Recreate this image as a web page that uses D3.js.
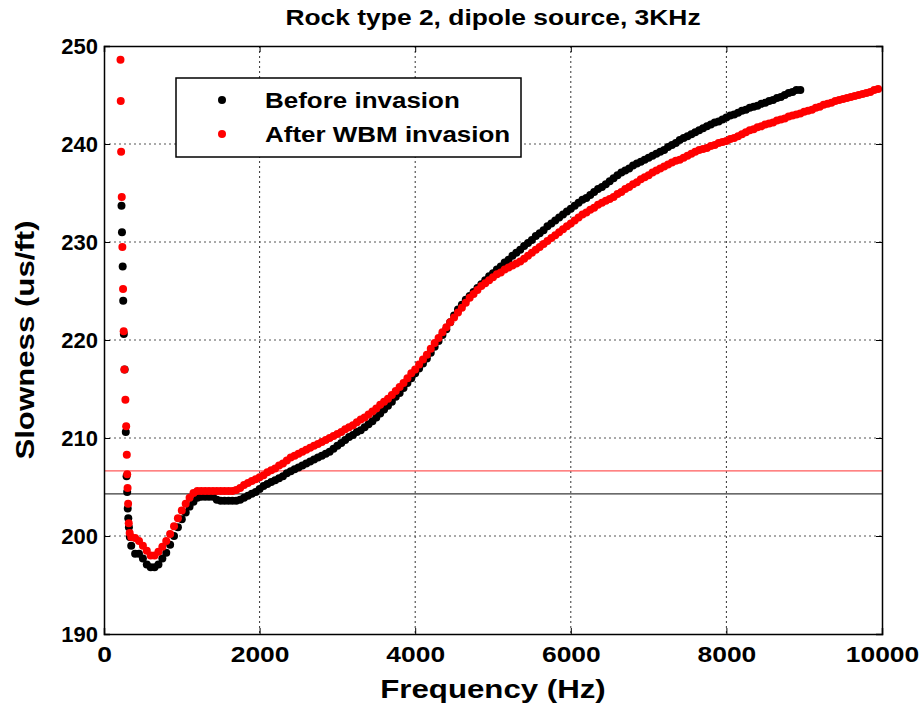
<!DOCTYPE html>
<html><head><meta charset="utf-8">
<script src="https://cdn.jsdelivr.net/npm/d3@7"></script>
<style>
html,body{margin:0;padding:0;background:#fff;}
svg{display:block;font-family:"Liberation Sans",Arial,Helvetica,sans-serif;}
</style></head>
<body><svg id="chart" width="922" height="706"></svg>
<script>
// ---------------- DATA ----------------
const chartTitle = "Rock type 2, dipole source, 3KHz";
const xLabel = "Frequency (Hz)";
const yLabel = "Slowness (us/ft)";
const seriesNames = ["Before invasion", "After WBM invasion"];
const xTicks = [0, 2000, 4000, 6000, 8000, 10000];
const yTicks = [190, 200, 210, 220, 230, 240, 250];

// low-frequency steep branch (Hz, us/ft)
const beforeLowFreq = [225, 231, 240, 247, 255, 265, 280, 290, 298, 305, 312, 320, 332];
const beforeLowSlow = [233.7, 231.0, 227.5, 224.0, 220.6, 217.0, 210.6, 206.1, 204.5, 202.8, 201.8, 200.9, 199.9];
const afterLowFreq = [212, 215, 220, 228, 236, 245, 253, 262, 275, 285, 293, 298, 303, 310, 318, 330];
const afterLowSlow = [248.6, 244.4, 239.2, 234.6, 229.5, 225.2, 220.9, 217.0, 213.9, 211.2, 208.3, 206.3, 204.9, 203.3, 201.3, 200.3];

// main branch frequencies (Hz)
const freqHz = [
  350,400,450,500,550,600,650,700,750,800,850,900,950,
  1000,1050,1100,1150,1200,1250,1300,1350,1400,1450,1500,1550,1600,1650,1700,1750,1800,1850,1900,1950,
  2000,2050,2100,2150,2200,2250,2300,2350,2400,2450,2500,2550,2600,2650,2700,2750,2800,2850,2900,2950,
  3000,3050,3100,3150,3200,3250,3300,3350,3400,3450,3500,3550,3600,3650,3700,3750,3800,3850,3900,3950,
  4000,4050,4100,4150,4200,4250,4300,4350,4400,4450,4500,4550,4600,4650,4700,4750,4800,4850,4900,4950,
  5000,5050,5100,5150,5200,5250,5300,5350,5400,5450,5500,5550,5600,5650,5700,5750,5800,5850,5900,5950,
  6000,6050,6100,6150,6200,6250,6300,6350,6400,6450,6500,6550,6600,6650,6700,6750,6800,6850,6900,6950,
  7000,7050,7100,7150,7200,7250,7300,7350,7400,7450,7500,7550,7600,7650,7700,7750,7800,7850,7900,7950,
  8000,8050,8100,8150,8200,8250,8300,8350,8400,8450,8500,8550,8600,8650,8700,8750,8800,8850,8900,8950,
  9000,9050,9100,9150,9200,9250,9300,9350,9400,9450,9500,9550,9600,9650,9700,9750,9800,9850,9900,9950
];
// Before invasion slowness (us/ft), 350 .. 8950 Hz
const beforeSlow = [
  199.0,198.2,198.2,197.7,197.1,196.8,196.8,197.1,197.7,198.3,199.1,200.0,200.9,
  201.7,202.4,203.0,203.5,203.9,204.0,204.0,204.0,204.0,203.7,203.6,203.6,203.6,203.6,203.6,203.7,203.9,204.1,204.3,204.5,
  204.8,205.1,205.3,205.5,205.7,205.9,206.1,206.4,206.6,206.8,207.0,207.2,207.4,207.6,207.8,208.0,208.2,208.4,208.6,208.9,
  209.2,209.5,209.8,210.1,210.3,210.6,210.8,211.1,211.4,211.7,212.1,212.5,212.9,213.3,213.7,214.2,214.6,215.1,215.6,216.1,
  216.6,217.1,217.6,218.1,218.7,219.3,219.9,220.5,221.1,221.8,222.5,223.1,223.6,224.1,224.5,224.9,225.3,225.7,226.1,226.5,
  226.8,227.2,227.5,227.9,228.2,228.6,228.9,229.2,229.6,229.9,230.2,230.6,230.9,231.2,231.6,231.9,232.2,232.5,232.8,233.1,
  233.4,233.7,234.0,234.3,234.5,234.8,235.1,235.4,235.6,235.9,236.2,236.5,236.8,237.1,237.3,237.5,237.8,238.0,238.2,238.4,
  238.6,238.8,239.0,239.2,239.4,239.7,239.9,240.1,240.4,240.6,240.8,241.0,241.2,241.4,241.6,241.8,242.0,242.2,242.3,242.5,
  242.7,242.9,243.0,243.2,243.4,243.5,243.7,243.8,243.9,244.1,244.2,244.4,244.5,244.7,244.8,245.0,245.2,245.3,245.5,245.5
];
// After WBM invasion slowness (us/ft), 350 .. 9950 Hz
const afterSlow = [
  199.9,199.8,199.5,199.0,198.5,198.0,198.0,198.4,198.9,199.5,200.2,201.0,201.8,
  202.6,203.3,203.9,204.4,204.6,204.6,204.6,204.6,204.6,204.6,204.6,204.6,204.6,204.6,204.7,204.9,205.2,205.4,205.6,205.8,
  206.0,206.2,206.5,206.7,206.9,207.2,207.4,207.7,208.0,208.2,208.4,208.6,208.8,209.0,209.2,209.4,209.6,209.8,210.0,210.2,
  210.4,210.6,210.9,211.1,211.3,211.6,211.9,212.1,212.4,212.7,213.0,213.4,213.7,214.0,214.4,214.8,215.2,215.6,216.1,216.6,
  217.0,217.5,218.0,218.5,219.1,219.7,220.2,220.8,221.3,221.8,222.3,222.8,223.3,223.8,224.3,224.7,225.1,225.5,225.8,226.1,
  226.4,226.7,226.9,227.2,227.4,227.6,227.8,228.0,228.3,228.6,228.9,229.2,229.5,229.8,230.1,230.4,230.7,231.0,231.3,231.6,
  231.9,232.2,232.5,232.8,233.0,233.3,233.5,233.8,234.0,234.2,234.4,234.6,234.9,235.1,235.4,235.6,235.9,236.1,236.4,236.6,
  236.8,237.1,237.3,237.5,237.7,237.9,238.1,238.3,238.4,238.6,238.8,239.0,239.2,239.4,239.5,239.6,239.8,239.9,240.1,240.2,
  240.3,240.5,240.6,240.8,241.0,241.2,241.4,241.5,241.7,241.8,242.0,242.1,242.2,242.4,242.5,242.6,242.8,242.9,243.0,243.1,
  243.3,243.4,243.5,243.7,243.8,244.0,244.1,244.2,244.4,244.5,244.6,244.7,244.8,244.9,245.0,245.1,245.2,245.3,245.5,245.6
];
// horizontal reference levels (us/ft)
const refLevels = [204.3, 206.65];
const seriesColors = ["#000000", "#ff0000"];
const refColors = ["#3a3a3a", "#ff5a5a"];

// ---------------- CHART ----------------
const svg = d3.select("#chart");
const L = 104, R = 882, T = 46, B = 634;
const x = d3.scaleLinear().domain([0, 10000]).range([L, R]);
const y = d3.scaleLinear().domain([190, 250]).range([B, T]);
const STR = 1.2;
const MR = 4;

function stretch(sel, k) {
  sel.each(function () {
    const w = this.getComputedTextLength();
    d3.select(this).attr("textLength", w * k).attr("lengthAdjust", "spacingAndGlyphs");
  });
}

// grid
const grid = svg.append("g");
grid.selectAll("line.vg").data(xTicks.slice(1, -1)).join("line")
  .attr("x1", d => x(d)).attr("x2", d => x(d)).attr("y1", T).attr("y2", B)
  .attr("stroke", "#333").attr("stroke-width", 1).attr("stroke-dasharray", "2,3");
grid.selectAll("line.hg").data(yTicks.slice(1, -1)).join("line")
  .attr("x1", L).attr("x2", R).attr("y1", d => y(d)).attr("y2", d => y(d))
  .attr("stroke", "#555").attr("stroke-width", 1).attr("stroke-dasharray", "2,3");

// reference lines
svg.selectAll("line.ref").data(refLevels).join("line")
  .attr("x1", L).attr("x2", R).attr("y1", d => y(d)).attr("y2", d => y(d))
  .attr("stroke", (d, i) => refColors[i]).attr("stroke-width", 1.3);

// series
function pts(fl, sl, fm, sm) {
  const a = fl.map((f, i) => ({ f, s: sl[i] }));
  return a.concat(sm.map((s, i) => ({ f: fm[i], s })));
}
const series = [
  pts(beforeLowFreq, beforeLowSlow, freqHz, beforeSlow),
  pts(afterLowFreq, afterLowSlow, freqHz, afterSlow)
];
series.forEach((data, k) => {
  svg.append("g").selectAll("circle").data(data).join("circle")
    .attr("cx", d => x(d.f)).attr("cy", d => y(d.s)).attr("r", MR)
    .attr("fill", seriesColors[k]);
});

// axes
const axB = svg.append("g").attr("transform", `translate(0,${B})`)
  .call(d3.axisBottom(x).tickValues(xTicks).tickFormat(d3.format("d")).tickSize(-6).tickPadding(12));
const axT = svg.append("g").attr("transform", `translate(0,${T})`)
  .call(d3.axisTop(x).tickValues(xTicks).tickFormat("").tickSize(-6));
const axL = svg.append("g").attr("transform", `translate(${L},0)`)
  .call(d3.axisLeft(y).tickValues(yTicks).tickFormat(d3.format("d")).tickSize(-6).tickPadding(6));
const axR = svg.append("g").attr("transform", `translate(${R},0)`)
  .call(d3.axisRight(y).tickValues(yTicks).tickFormat("").tickSize(-6));
[axB, axT, axL, axR].forEach(g => {
  g.select(".domain").attr("stroke", "#000").attr("stroke-width", 1.5);
  g.selectAll(".tick line").attr("stroke", "#000").attr("stroke-width", 1);
});
axB.selectAll(".tick text").attr("font-size", 22).attr("font-weight", "bold").attr("fill", "#000")
  .attr("font-family", "Liberation Sans, Arial, sans-serif").attr("dy", "0.71em");
stretch(axB.selectAll(".tick text"), STR);
axL.selectAll(".tick text").attr("font-size", 22).attr("font-weight", "bold").attr("fill", "#000")
  .attr("font-family", "Liberation Sans, Arial, sans-serif").attr("dy", "0.36em");
stretch(axL.selectAll(".tick text"), 1.0);

// title & labels
const title = svg.append("text").attr("x", (L + R) / 2).attr("y", 25).attr("text-anchor", "middle")
  .attr("font-size", 22).attr("font-weight", "bold").text(chartTitle);
stretch(title, STR);
const xl = svg.append("text").attr("x", (L + R) / 2).attr("y", 698).attr("text-anchor", "middle")
  .attr("font-size", 26).attr("font-weight", "bold").text(xLabel);
stretch(xl, STR);
const yl = svg.append("text").attr("transform", `translate(34,${(T + B) / 2}) rotate(-90)`)
  .attr("text-anchor", "middle").attr("font-size", 26).attr("font-weight", "bold").text(yLabel);
stretch(yl, STR);

// legend
const lg = svg.append("g");
lg.append("rect").attr("x", 176).attr("y", 78).attr("width", 345).attr("height", 79)
  .attr("fill", "#fff").attr("stroke", "#000").attr("stroke-width", 1.5);
seriesNames.forEach((n, i) => {
  const cy = 100 + i * 34;
  lg.append("circle").attr("cx", 222).attr("cy", cy).attr("r", MR).attr("fill", seriesColors[i]);
  const t = lg.append("text").attr("x", 265).attr("y", cy + 8).attr("font-size", 22)
    .attr("font-weight", "bold").text(n);
  stretch(t, 1.18);
});
</script></body></html>
